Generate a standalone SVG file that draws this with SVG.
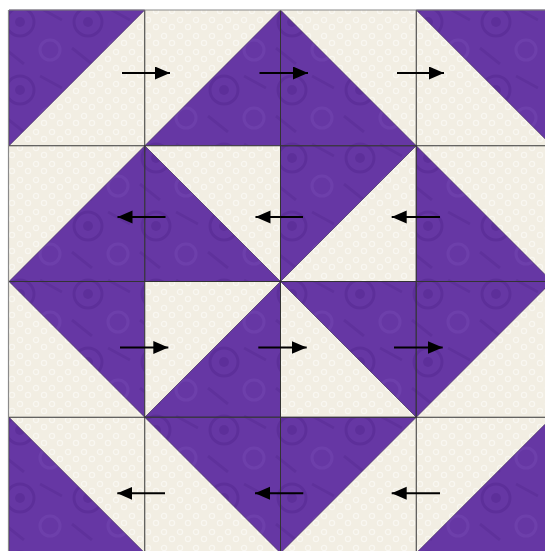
<svg xmlns="http://www.w3.org/2000/svg" width="545" height="551" viewBox="0 0 545 551">
  <defs>
    <pattern id="creamTex" width="16" height="16" patternUnits="userSpaceOnUse">
      <rect width="16" height="16" fill="#f2eee3"/>
      <circle cx="4" cy="4" r="2.6" fill="none" stroke="#f9f7f1" stroke-width="1.3"/>
      <circle cx="12" cy="11" r="2.6" fill="none" stroke="#f9f7f1" stroke-width="1.3"/>
    </pattern>
    <pattern id="purpleTex" width="68" height="68" patternUnits="userSpaceOnUse">
      <rect width="68" height="68" fill="#6637a4"/>
      <circle cx="20" cy="22" r="14" fill="none" stroke="#5d2f9a" stroke-width="3"/>
      <circle cx="20" cy="22" r="5" fill="#5d2f9a"/>
      <circle cx="50" cy="50" r="10" fill="none" stroke="#6d3fab" stroke-width="3"/>
      <path d="M40 8 L62 20 M4 48 L24 64" stroke="#5f319c" stroke-width="3"/>
    </pattern>
    <marker id="head" markerUnits="userSpaceOnUse" markerWidth="16" markerHeight="14" refX="15" refY="6.5" orient="auto">
      <path d="M0,0 L15,6.5 L0,13 Z" fill="#000"/>
    </marker>
  </defs>
  <style>
    .cream { fill: url(#creamTex); }
    .purple { fill: url(#purpleTex); stroke: #3d2a5e; stroke-width: 0.7; }
    .grid { fill: none; stroke: #333333; stroke-width: 1; }
    .arrow { stroke: #000; stroke-width: 2; fill: none; marker-end: url(#head); }
  </style>
  <rect width="545" height="551" fill="#ffffff"/>

  <g id="cell-0-0"><rect class="cream" x="9" y="10" width="135.75" height="135.75"/><polygon class="purple" points="9,10 144.75,10 9,145.75"/></g>
  <g id="cell-0-1"><rect class="cream" x="144.75" y="10" width="135.75" height="135.75"/><polygon class="purple" points="280.5,10 280.5,145.75 144.75,145.75"/></g>
  <g id="cell-0-2"><rect class="cream" x="280.5" y="10" width="135.75" height="135.75"/><polygon class="purple" points="280.5,10 416.25,145.75 280.5,145.75"/></g>
  <g id="cell-0-3"><rect class="cream" x="416.25" y="10" width="135.75" height="135.75"/><polygon class="purple" points="416.25,10 552,10 552,145.75"/></g>

  <g id="cell-1-0"><rect class="cream" x="9" y="145.75" width="135.75" height="135.75"/><polygon class="purple" points="144.75,145.75 144.75,281.5 9,281.5"/></g>
  <g id="cell-1-1"><rect class="cream" x="144.75" y="145.75" width="135.75" height="135.75"/><polygon class="purple" points="144.75,145.75 280.5,281.5 144.75,281.5"/></g>
  <g id="cell-1-2"><rect class="cream" x="280.5" y="145.75" width="135.75" height="135.75"/><polygon class="purple" points="280.5,145.75 416.25,145.75 280.5,281.5"/></g>
  <g id="cell-1-3"><rect class="cream" x="416.25" y="145.75" width="135.75" height="135.75"/><polygon class="purple" points="416.25,145.75 552,281.5 416.25,281.5"/></g>

  <g id="cell-2-0"><rect class="cream" x="9" y="281.5" width="135.75" height="135.75"/><polygon class="purple" points="9,281.5 144.75,281.5 144.75,417.25"/></g>
  <g id="cell-2-1"><rect class="cream" x="144.75" y="281.5" width="135.75" height="135.75"/><polygon class="purple" points="280.5,281.5 280.5,417.25 144.75,417.25"/></g>
  <g id="cell-2-2"><rect class="cream" x="280.5" y="281.5" width="135.75" height="135.75"/><polygon class="purple" points="280.5,281.5 416.25,281.5 416.25,417.25"/></g>
  <g id="cell-2-3"><rect class="cream" x="416.25" y="281.5" width="135.75" height="135.75"/><polygon class="purple" points="416.25,281.5 552,281.5 416.25,417.25"/></g>

  <g id="cell-3-0"><rect class="cream" x="9" y="417.25" width="135.75" height="135.75"/><polygon class="purple" points="9,417.25 144.75,553 9,553"/></g>
  <g id="cell-3-1"><rect class="cream" x="144.75" y="417.25" width="135.75" height="135.75"/><polygon class="purple" points="144.75,417.25 280.5,417.25 280.5,553"/></g>
  <g id="cell-3-2"><rect class="cream" x="280.5" y="417.25" width="135.75" height="135.75"/><polygon class="purple" points="280.5,417.25 416.25,417.25 280.5,553"/></g>
  <g id="cell-3-3"><rect class="cream" x="416.25" y="417.25" width="135.75" height="135.75"/><polygon class="purple" points="552,417.25 552,553 416.25,553"/></g>

  <g id="grid">
    <path class="grid" d="M144.75,10 V553 M280.5,10 V553 M416.25,10 V553 M9,145.75 H552 M9,281.5 H552 M9,417.25 H552"/>
    <path d="M8.5,10 V553 M9,10 H552" fill="none" stroke="#8a8a8a" stroke-width="1.2"/>
  </g>

  <g id="connectors">
    <line class="arrow" x1="122" y1="73" x2="170" y2="73"/>
    <line class="arrow" x1="259.5" y1="73" x2="308" y2="73"/>
    <line class="arrow" x1="397" y1="73" x2="444" y2="73"/>
    <line class="arrow" x1="165.5" y1="217" x2="117.5" y2="217"/>
    <line class="arrow" x1="303" y1="217" x2="255.5" y2="217"/>
    <line class="arrow" x1="440" y1="217" x2="391.7" y2="217"/>
    <line class="arrow" x1="120" y1="347.5" x2="168.3" y2="347.5"/>
    <line class="arrow" x1="258.3" y1="347.5" x2="306.7" y2="347.5"/>
    <line class="arrow" x1="394" y1="347.5" x2="442.7" y2="347.5"/>
    <line class="arrow" x1="165" y1="493.3" x2="117.3" y2="493.3"/>
    <line class="arrow" x1="303.3" y1="493.3" x2="255" y2="493.3"/>
    <line class="arrow" x1="440" y1="493.3" x2="391.7" y2="493.3"/>
  </g>
</svg>
